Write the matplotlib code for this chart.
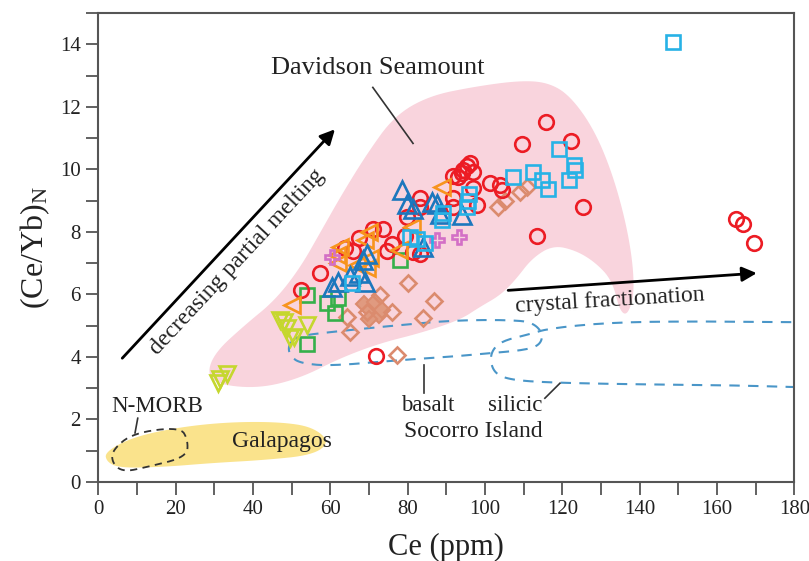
import numpy as np
import matplotlib.pyplot as plt
from matplotlib.patches import Polygon
from matplotlib.ticker import MultipleLocator

plt.rcParams["font.family"] = ["Liberation Serif", "DejaVu Serif"]
plt.rcParams["mathtext.fontset"] = "custom"
plt.rcParams["mathtext.rm"] = "Liberation Serif"
plt.rcParams["mathtext.it"] = "Liberation Serif:italic"

# Ce (ppm) and chondrite-normalised Ce/Yb for each sample group
red_ce = [52.5, 57.4, 71.7, 66.0, 67.3, 73.7, 71.0, 76.0, 79.4, 83.3, 83.3, 63.8,
          74.6, 81.4, 79.8, 83.2, 91.8, 93.1, 94.0, 94.4, 95.4, 96.2, 97.0, 91.8,
          91.8, 97.0, 98.0, 101.4, 104.0, 104.5, 109.6, 115.9, 122.3, 125.4,
          113.5, 164.9, 166.8, 169.6]
red_ratio = [6.13, 6.68, 4.02, 7.4, 7.8, 8.1, 8.1, 7.6, 7.86, 7.3, 9.07, 7.5,
             7.4, 7.35, 8.47, 8.8, 9.8, 9.75, 9.87, 9.97, 10.1, 10.2, 9.9, 8.8,
             9.07, 9.4, 8.85, 9.55, 9.5, 9.33, 10.8, 11.5, 10.9, 8.8,
             7.86, 8.42, 8.24, 7.64]

cyan_ce = [148.6, 119.2, 123.0, 123.3, 121.8, 116.4, 114.7, 112.5, 107.3, 95.8,
           95.7, 95.3, 88.8, 84.5, 82.4, 80.6, 65.6, 89.2]
cyan_ratio = [14.07, 10.66, 10.13, 9.97, 9.65, 9.38, 9.65, 9.91, 9.77, 9.22,
              9.0, 8.8, 8.37, 7.63, 7.78, 7.84, 6.35, 8.6]

blue_ce = [78.5, 79.8, 81.5, 86.2, 87.6, 88.4, 94.0, 84.1, 69.4, 68.5, 67.3,
           62.1, 60.4, 69.0, 65.0]
blue_ratio = [9.33, 8.9, 8.74, 8.96, 8.9, 8.58, 8.53, 7.52, 7.3, 7.1, 6.67,
              6.4, 6.24, 6.4, 6.6]

orange_ce = [88.9, 81.1, 69.9, 69.0, 62.5, 61.7, 62.1, 70.3, 69.4, 66.8, 77.7, 50.0]
orange_ratio = [9.43, 8.16, 8.0, 7.73, 7.52, 7.25, 6.99, 7.15, 6.83, 6.93, 7.41, 5.65]

yellow_ce = [47.9, 48.7, 49.6, 53.9, 50.5, 47.0, 33.2, 31.5, 31.0]
yellow_ratio = [5.12, 4.91, 4.59, 5.02, 4.64, 5.18, 3.47, 3.31, 3.16]

green_ce = [53.9, 53.9, 59.1, 61.2, 78.1, 62.0]
green_ratio = [4.43, 5.97, 5.71, 5.39, 7.09, 5.9]

salmon_ce = [80.2, 86.9, 84.1, 64.2, 65.1, 77.2, 72.9, 75.9, 69.4, 103.5, 105.2,
             109.0, 110.8]
salmon_ratio = [6.35, 5.8, 5.23, 5.28, 4.8, 4.06, 5.97, 5.44, 5.44, 8.8, 9.0,
                9.27, 9.43]
salmon_fill_ce = [68.8, 70.3, 71.5, 72.5, 70.0, 73.5]
salmon_fill_ratio = [5.7, 5.5, 5.75, 5.35, 5.2, 5.5]

magenta_ce = [93.2, 87.5, 60.4]
magenta_ratio = [7.84, 7.73, 7.2]

# outlines of the comparison fields
seamount_ce = [28.1, 30.2, 37.9, 45.7, 52.2, 57.5, 63.0, 69.5, 76.5, 85.5, 97.5,
               109.0, 116.3, 122.0, 128.4, 133.6, 137.5, 138.8, 137.0, 134.9,
               132.9, 128.5, 123.4, 117.6, 112.2, 107.8, 103.9, 98.7, 93.5,
               83.2, 72.9, 62.5, 52.2, 41.8, 31.5]
seamount_ratio = [3.45, 4.15, 5.02, 5.81, 6.85, 8.0, 9.2, 10.5, 11.7, 12.35,
                  12.65, 12.84, 12.78, 12.36, 11.25, 9.65, 7.73, 6.13, 5.34,
                  5.45, 6.45, 7.03, 7.41, 7.57, 7.16, 6.45, 5.97, 5.6, 5.18,
                  4.76, 4.44, 3.96, 3.32, 3.0, 3.1]

galapagos_ce = [1.7, 9.0, 21.2, 34.1, 47.0, 55.5, 59.9, 55.5, 42.6, 29.7, 16.7, 5.6, 2.2]
galapagos_ratio = [0.96, 1.44, 1.76, 1.92, 1.92, 1.76, 1.28, 0.86, 0.70, 0.61,
                   0.48, 0.45, 0.64]

nmorb_ce = [3.6, 9.0, 21.2, 23.2, 22.9, 12.6, 6.4, 3.6]
nmorb_ratio = [1.02, 1.57, 1.76, 1.34, 0.8, 0.48, 0.32, 0.61]

basalt_ce = [49.1, 50.9, 61.7, 78.0, 92.7, 109.0, 112.9, 115.0, 114.2, 110.3,
             101.3, 93.5, 78.0, 59.9, 52.2, 49.6]
basalt_ratio = [4.35, 4.66, 4.82, 5.02, 5.18, 5.18, 5.05, 4.73, 4.38, 4.22,
                4.12, 4.03, 3.90, 3.71, 3.80, 4.03]

silicic_ce = [189.3, 180.0, 155.6, 133.1, 116.8, 111.6, 105.2, 102.4, 101.3,
              102.3, 105.7, 114.2, 134.9, 160.8, 180.0, 189.3]
silicic_ratio = [5.11, 5.11, 5.14, 5.11, 4.92, 4.73, 4.54, 4.31, 3.96, 3.51,
                 3.29, 3.19, 3.13, 3.10, 3.04, 3.0]


def chaikin(xs, ys, n_iter=3, closed=True):
    # corner cutting to round off the hand-drawn outlines
    pts = np.column_stack([xs, ys]).astype(float)
    for _ in range(n_iter):
        nxt = np.roll(pts, -1, axis=0) if closed else pts[1:]
        cur = pts if closed else pts[:-1]
        q = 0.75 * cur + 0.25 * nxt
        r = 0.25 * cur + 0.75 * nxt
        new = np.empty((2 * len(cur), 2))
        new[0::2] = q
        new[1::2] = r
        if not closed:
            new = np.vstack([pts[:1], new, pts[-1:]])
        pts = new
    return pts


fig = plt.figure(figsize=(8.09, 5.61), dpi=100)
ax = fig.add_axes([0.1215, 0.1408, 0.8603, 0.836])

# shaded fields
ax.add_patch(Polygon(chaikin(seamount_ce, seamount_ratio), closed=True,
                     facecolor="#F9D4DD", edgecolor="none", zorder=1))
ax.add_patch(Polygon(chaikin(galapagos_ce, galapagos_ratio), closed=True,
                     facecolor="#FAE38C", edgecolor="none", zorder=1))

# dashed outlines
nm = chaikin(nmorb_ce, nmorb_ratio)
nm = np.vstack([nm, nm[:1]])
ax.plot(nm[:, 0], nm[:, 1], color="#333333", lw=1.3, ls=(0, (4, 3)), zorder=2)
bs = chaikin(basalt_ce, basalt_ratio)
bs = np.vstack([bs, bs[:1]])
ax.plot(bs[:, 0], bs[:, 1], color="#4A96C8", lw=1.5, ls=(0, (5, 4)), zorder=2)
sl = chaikin(silicic_ce, silicic_ratio, closed=False)
ax.plot(sl[:, 0], sl[:, 1], color="#4A96C8", lw=1.5, ls=(0, (5, 4)), zorder=2)

# sample groups
mk = dict(ls="none", mfc="none", mew=1.9, zorder=4)
ax.plot(salmon_fill_ce, salmon_fill_ratio, ls="none", marker="D", ms=8,
        mfc="#E09A80", mec="#DB8B6E", mew=1.5, zorder=3)
ax.plot(salmon_ce, salmon_ratio, marker="D", ms=8.5, mec="#DB8B6E", **mk)
ax.plot(green_ce, green_ratio, marker="s", ms=10, mec="#35B04A", **mk)
ax.plot(yellow_ce, yellow_ratio, marker="v", ms=11, mec="#C5D72E", **mk)
ax.plot(red_ce, red_ratio, marker="o", ms=10.5, mec="#EC1C24", **mk)
ax.plot(orange_ce, orange_ratio, marker="<", ms=11, mec="#F7941D", **mk)
ax.plot(magenta_ce, magenta_ratio, marker="P", ms=10, mec="#D36FC6", **mk)
ax.plot(blue_ce, blue_ratio, marker="^", ms=13.5, mec="#1C77BD", **mk)
ax.plot(cyan_ce, cyan_ratio, marker="s", ms=10.5, mec="#27B2E6", **mk)

# arrows
arrow = dict(arrowstyle="-|>", color="black", lw=2, mutation_scale=22,
             shrinkA=0, shrinkB=0)
ax.annotate("", xy=(61.2, 11.28), xytext=(6.2, 3.96), arrowprops=arrow, zorder=5)
ax.annotate("", xy=(170.3, 6.68), xytext=(106.0, 6.13), arrowprops=arrow, zorder=5)

# leader lines
lead = dict(color="#333333", lw=1.2, zorder=5)
ax.plot([71.0, 81.4], [12.62, 10.83], **lead)
ax.plot([10.2, 9.5], [2.04, 1.57], **lead)
ax.plot([84.3, 84.3], [3.74, 2.84], **lead)
ax.plot([119.4, 115.5], [3.16, 2.68], **lead)

# labels on the plot
txt = dict(color="#222222", ha="center", va="center", zorder=6)
ax.text(72.3, 13.23, "Davidson Seamount", fontsize=19, **txt)
ax.text(35.9, 7.03, "decreasing partial melting", fontsize=17, rotation=47,
        rotation_mode="anchor", **txt)
ax.text(132.4, 5.8, "crystal fractionation", fontsize=17, rotation=3.5,
        rotation_mode="anchor", **txt)
ax.text(15.2, 2.43, "N-MORB", fontsize=16.5, **txt)
ax.text(47.5, 1.31, "Galapagos", fontsize=17, **txt)
ax.text(85.1, 2.46, "basalt", fontsize=16.5, **txt)
ax.text(107.7, 2.46, "silicic", fontsize=16.5, **txt)
ax.text(96.9, 1.6, "Socorro Island", fontsize=17, **txt)

# axes
ax.set_xlim(0, 180)
ax.set_ylim(0, 15)
ax.xaxis.set_major_locator(MultipleLocator(20))
ax.xaxis.set_minor_locator(MultipleLocator(10))
ax.yaxis.set_major_locator(MultipleLocator(2))
ax.yaxis.set_minor_locator(MultipleLocator(1))
ax.tick_params(which="both", direction="out", length=9, width=1.3,
               color="#555555", labelsize=15, labelcolor="#222222")
ax.tick_params(axis="x", pad=4)
for sp in ax.spines.values():
    sp.set_color("#555555")
    sp.set_linewidth(1.5)

ax.set_xlabel("Ce (ppm)", fontsize=22, color="#222222", labelpad=10)
ax.set_ylabel("(Ce/Yb)$_\\mathrm{N}$", fontsize=23, color="#222222", labelpad=6)

fig.savefig("out.png", dpi=100)
